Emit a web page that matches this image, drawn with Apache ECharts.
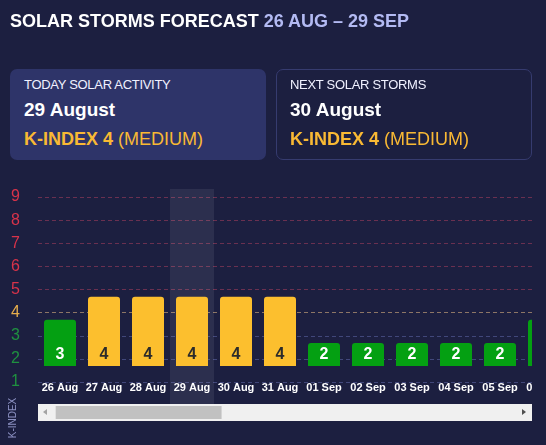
<!DOCTYPE html>
<html>
<head>
<meta charset="utf-8">
<script src="https://cdn.jsdelivr.net/npm/echarts@6/dist/echarts.min.js"></script>
<style>
  html, body { margin: 0; padding: 0; background: #1c1f40; width: 546px; height: 445px; overflow: hidden; font-family: "Liberation Sans", Arial, sans-serif; }
  #chart { position: absolute; left: 0; top: 0; width: 532px; height: 445px; }
  .abs { position: absolute; white-space: nowrap; }
  #title { left: 10px; top: 12px; font-size: 18px; line-height: 18px; font-weight: bold; color: #ffffff; }
  #title span { color: #b3baf3; }
  .card { position: absolute; top: 69px; height: 91px; border-radius: 7px; box-sizing: border-box; }
  #card1 { left: 10px; width: 256px; background: #2e3469; }
  #card2 { left: 276px; width: 256px; border: 1px solid #363b6f; }
  .c-h { left: 14px; top: 9px; font-size: 13px; line-height: 13px; color: #f0f1ff; letter-spacing: -0.3px; }
  .c-d { left: 14px; top: 31px; font-size: 19px; line-height: 19px; font-weight: bold; color: #ffffff; }
  .c-k { left: 14px; top: 61px; font-size: 18px; line-height: 18px; color: #f9b934; }
  .c-k b { font-weight: bold; }
  #card2 .abs { margin-left: -1px; margin-top: -1px; }
</style>
</head>
<body>
<div id="chart"></div>
<div id="title" class="abs">SOLAR STORMS FORECAST <span>26 AUG – 29 SEP</span></div>
<div id="card1" class="card">
  <div class="abs c-h">TODAY SOLAR ACTIVITY</div>
  <div class="abs c-d">29 August</div>
  <div class="abs c-k"><b>K-INDEX 4</b> (MEDIUM)</div>
</div>
<div id="card2" class="card">
  <div class="abs c-h">NEXT SOLAR STORMS</div>
  <div class="abs c-d">30 August</div>
  <div class="abs c-k"><b>K-INDEX 4</b> (MEDIUM)</div>
</div>
<script>
// ---- data ----
var categories = [
  '26 Aug', '27 Aug', '28 Aug', '29 Aug', '30 Aug', '31 Aug',
  '01 Sep', '02 Sep', '03 Sep', '04 Sep', '05 Sep', '06 Sep', '07 Sep',
  '08 Sep', '09 Sep', '10 Sep', '11 Sep', '12 Sep', '13 Sep', '14 Sep',
  '15 Sep', '16 Sep', '17 Sep', '18 Sep', '19 Sep', '20 Sep', '21 Sep',
  '22 Sep', '23 Sep', '24 Sep', '25 Sep', '26 Sep', '27 Sep', '28 Sep', '29 Sep'
];
// values after 06 Sep are not visible in the picture: left empty
var kIndex = [3, 4, 4, 4, 4, 4, 2, 2, 2, 2, 2, 3, null,
  null, null, null, null, null, null, null, null, null, null, null,
  null, null, null, null, null, null, null, null, null, null, null];
var today = '29 Aug';
var kMin = 1, kMax = 9;

// ---- styles ----
var FONT = '"Liberation Sans", Arial, sans-serif';
function levelColor(v) { return v >= 5 ? '#d8334a' : (v >= 4 ? '#e6ad4c' : '#1f9140'); }
function barColor(v) { return v >= 5 ? '#e0304a' : (v >= 4 ? '#fcbf2e' : '#04a012'); }
function barLabelColor(v) { return v >= 4 ? '#2b2b2b' : '#ffffff'; }
var lineColors = [];
for (var k = kMin; k <= kMax; k++) {
  lineColors.push(k >= 5 ? '#6a3050' : (k >= 4 ? '#8d7666' : '#41477a'));
}

var barData = kIndex.map(function (v) {
  if (v == null) return '-';
  return { value: v, itemStyle: { color: barColor(v) }, label: { color: barLabelColor(v) } };
});
var highlightData = categories.map(function (c) { return c === today ? 1 : '-'; });

var chart = echarts.init(document.getElementById('chart'));
chart.setOption({
  backgroundColor: 'transparent',
  animation: false,
  grid: [
    { left: 38, top: 197, width: 572, bottom: 63, outerBoundsMode: 'none', containLabel: false },   // K-index scale
    { left: 38, top: 189, width: 572, bottom: 41, outerBoundsMode: 'none', containLabel: false },   // today highlight
    { left: 38, top: 181, width: 572, bottom: 79, outerBoundsMode: 'none', containLabel: false }    // bars
  ],
  xAxis: [
    { type: 'category', gridIndex: 0, data: categories, show: false },
    { type: 'category', gridIndex: 1, data: categories, show: false },
    {
      type: 'category', gridIndex: 2, data: categories,
      axisLine: { show: false }, axisTick: { show: false },
      axisLabel: { interval: 0, margin: 16, color: '#ffffff', fontSize: 11, fontWeight: 'bold', fontFamily: FONT }
    }
  ],
  yAxis: [
    {
      type: 'value', gridIndex: 0, min: kMin, max: kMax, interval: 1,
      axisLine: { show: false }, axisTick: { show: false },
      axisLabel: {
        margin: 18, fontSize: 16, fontFamily: FONT,
        color: function (val) { return levelColor(Number(val)); }
      },
      splitLine: { show: true, lineStyle: { color: lineColors, type: [4, 3], width: 1 } }
    },
    { type: 'value', gridIndex: 1, min: 0, max: 1, show: false, splitLine: { show: false } },
    { type: 'value', gridIndex: 2, min: kMin, max: kMax, show: false, splitLine: { show: false } }
  ],
  dataZoom: [{
    type: 'slider', xAxisIndex: [1, 2], startValue: 0, endValue: 12,
    left: 55, top: 406, width: 470, height: 13, z: 10,
    backgroundColor: 'rgba(0,0,0,0)', borderColor: 'rgba(0,0,0,0)', borderRadius: 0,
    fillerColor: '#c1c1c1',
    showDataShadow: false, showDetail: false, brushSelect: false, zoomLock: true,
    handleSize: 0, handleStyle: { opacity: 0 },
    moveHandleSize: 0, moveHandleStyle: { opacity: 0 },
    dataBackground: { lineStyle: { opacity: 0 }, areaStyle: { opacity: 0 } },
    selectedDataBackground: { lineStyle: { opacity: 0 }, areaStyle: { opacity: 0 } },
    emphasis: { handleStyle: { opacity: 0 }, moveHandleStyle: { opacity: 0 } }
  }],
  graphic: [
    { type: 'rect', z: 1, shape: { x: 38, y: 404, width: 494, height: 17 }, style: { fill: '#f0f0f0' } },
    { type: 'polygon', z: 2, shape: { points: [[43, 412], [47, 409], [47, 415]] }, style: { fill: '#a3a3a3' } },
    { type: 'polygon', z: 2, shape: { points: [[526, 412], [522, 409], [522, 415]] }, style: { fill: '#505050' } },
    {
      type: 'text', z: 2, x: 13.5, y: 418, rotation: Math.PI / 2,
      style: { text: 'K-INDEX', fill: '#8d92c4', font: '10px ' + FONT, align: 'center', verticalAlign: 'middle' }
    }
  ],
  series: [
    {
      type: 'bar', xAxisIndex: 1, yAxisIndex: 1, data: highlightData,
      barWidth: '100%', itemStyle: { color: 'rgba(255,255,255,0.075)' }, silent: true
    },
    {
      type: 'bar', xAxisIndex: 2, yAxisIndex: 2, data: barData, barWidth: 32,
      itemStyle: { borderRadius: [3, 3, 0, 0] },
      label: { show: true, position: 'insideBottom', distance: 3, fontSize: 16, fontWeight: 'bold', fontFamily: FONT }
    }
  ]
});
</script>
</body>
</html>
